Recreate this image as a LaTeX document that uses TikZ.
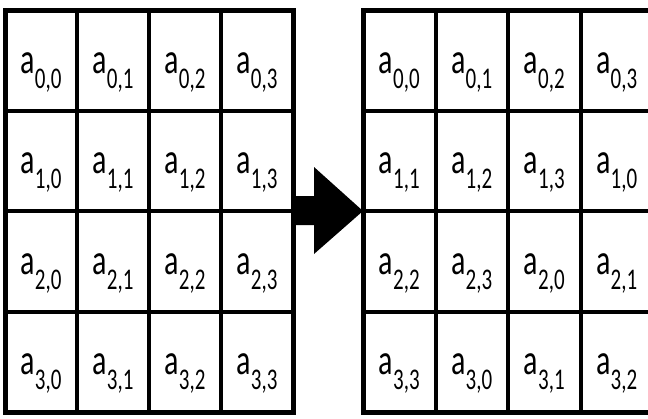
\documentclass[tikz,border=0pt]{standalone}
\usepackage{fontspec}
\setmainfont{Carlito}
\usetikzlibrary{positioning}
\newcommand{\elem}[2]{\scalebox{1}[1.43]{a\raisebox{-10.5pt}{\fontsize{21}{21}\selectfont #1,#2}}}
\begin{document}
\begin{tikzpicture}[x=1pt,y=-1pt,
    cell/.style={draw, rectangle, line width=4pt, outer sep=0pt, inner sep=0pt,
        minimum width=72pt, minimum height=100.5pt, text height=40pt, text depth=14.5pt,
        font=\fontsize{30}{30}\selectfont},
    rcell/.style={cell, minimum width=72.5pt}]
    \useasboundingbox (0,0) rectangle (648,418);
    % left state
    \node (L00) [cell] at (41,60.25) {\elem{0}{0}};
    \node (L01) [cell, right=0pt of L00] {\elem{0}{1}};
    \node (L02) [cell, right=0pt of L01] {\elem{0}{2}};
    \node (L03) [cell, right=0pt of L02] {\elem{0}{3}};
    \node (L10) [cell, below=0pt of L00] {\elem{1}{0}};
    \node (L11) [cell, right=0pt of L10] {\elem{1}{1}};
    \node (L12) [cell, right=0pt of L11] {\elem{1}{2}};
    \node (L13) [cell, right=0pt of L12] {\elem{1}{3}};
    \node (L20) [cell, below=0pt of L10] {\elem{2}{0}};
    \node (L21) [cell, right=0pt of L20] {\elem{2}{1}};
    \node (L22) [cell, right=0pt of L21] {\elem{2}{2}};
    \node (L23) [cell, right=0pt of L22] {\elem{2}{3}};
    \node (L30) [cell, below=0pt of L20] {\elem{3}{0}};
    \node (L31) [cell, right=0pt of L30] {\elem{3}{1}};
    \node (L32) [cell, right=0pt of L31] {\elem{3}{2}};
    \node (L33) [cell, right=0pt of L32] {\elem{3}{3}};
    \draw[line width=5pt] (L00.north west) rectangle (L33.south east);

    % right state, rows shifted
    \node (R00) [rcell] at (399.25,60.25) {\elem{0}{0}};
    \node (R01) [rcell, right=0pt of R00] {\elem{0}{1}};
    \node (R02) [rcell, right=0pt of R01] {\elem{0}{2}};
    \node (R03) [rcell, right=0pt of R02] {\elem{0}{3}};
    \node (R10) [rcell, below=0pt of R00] {\elem{1}{1}};
    \node (R11) [rcell, right=0pt of R10] {\elem{1}{2}};
    \node (R12) [rcell, right=0pt of R11] {\elem{1}{3}};
    \node (R13) [rcell, right=0pt of R12] {\elem{1}{0}};
    \node (R20) [rcell, below=0pt of R10] {\elem{2}{2}};
    \node (R21) [rcell, right=0pt of R20] {\elem{2}{3}};
    \node (R22) [rcell, right=0pt of R21] {\elem{2}{0}};
    \node (R23) [rcell, right=0pt of R22] {\elem{2}{1}};
    \node (R30) [rcell, below=0pt of R20] {\elem{3}{3}};
    \node (R31) [rcell, right=0pt of R30] {\elem{3}{0}};
    \node (R32) [rcell, right=0pt of R31] {\elem{3}{1}};
    \node (R33) [rcell, right=0pt of R32] {\elem{3}{2}};
    \draw[line width=5pt] (R00.north west) rectangle (R33.south east);

    % block arrow
    \coordinate (tip) at (R10.south west);
    \fill (L13.south east) ++(2,-15) -- ++(19,0) -- ++(0,-29) -- (tip)
        -- ++(-49,43) -- ++(0,-29) -- ++(-19,0) -- cycle;
\end{tikzpicture}
\end{document}
